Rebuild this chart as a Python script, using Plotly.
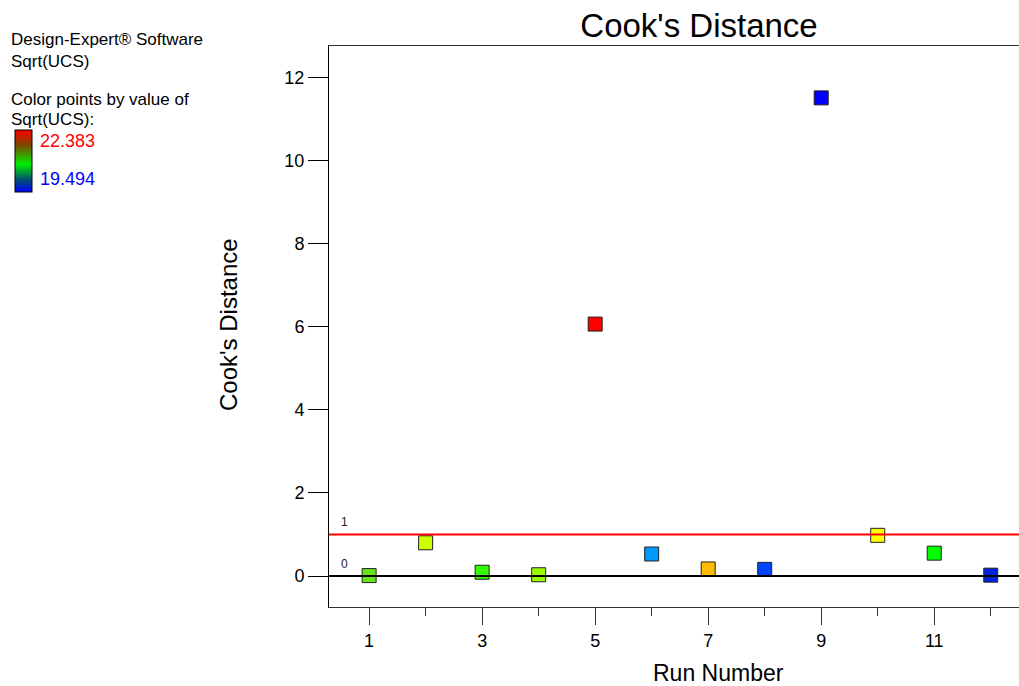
import plotly.graph_objects as go

runs = [1, 2, 3, 4, 5, 6, 7, 8, 9, 10, 11, 12]
cooks = [0.01, 0.80, 0.09, 0.03, 6.07, 0.53, 0.17, 0.16, 11.52, 0.98, 0.55, 0.02]
point_colors = ['#66e61a', '#ccff00', '#33ff00', '#99ff00', '#ff0000', '#0099ff',
                '#ffbb00', '#0044ff', '#0000ff', '#ffff00', '#00ff00', '#0022dd']
x_tick_vals = [1, 3, 5, 7, 9, 11]
y_tick_vals = [0, 2, 4, 6, 8, 10, 12]
ref_lines = [1, 0]
ref_colors = ['#ff0000', '#000000']
legend_hi = '22.383'
legend_lo = '19.494'

FONT = 'Liberation Sans, Arial, sans-serif'
W, H = 1019, 686
L, R, T, B = 329, 0, 46, 79
PW, PH = W - L - R, H - T - B


def px(x):
    return (x - L) / PW


def py(y):
    return (H - B - y) / PH


fig = go.Figure()

fig.add_trace(go.Scatter(
    x=runs, y=cooks, mode='markers',
    marker=dict(symbol='square', size=14, color=point_colors,
                line=dict(color='#222222', width=1)),
    showlegend=False, hoverinfo='x+y'))

# dummy trace only to carry the colour key bar
fig.add_trace(go.Scatter(
    x=runs, y=cooks, mode='markers', hoverinfo='skip', showlegend=False,
    marker=dict(opacity=0, size=1, color=[0.5] * len(runs), cmin=0, cmax=1,
                colorscale=[[0, '#0000ff'], [0.2, '#005070'], [0.45, '#00f000'],
                            [0.75, '#7a4a00'], [1, '#ff0000']],
                showscale=True,
                colorbar=dict(x=px(15), xanchor='left', xpad=0, ypad=0,
                              y=py(161), yanchor='middle',
                              len=62, lenmode='pixels', thickness=17,
                              thicknessmode='pixels', outlinewidth=1,
                              outlinecolor='#000000', showticklabels=False,
                              ticks=''))))

for v, c in zip(ref_lines, ref_colors):
    fig.add_shape(type='line', xref='paper', x0=0, x1=1, y0=v, y1=v,
                  line=dict(color=c, width=2), layer='above')
    fig.add_annotation(x=0.57, y=v + 0.3, text=str(v), showarrow=False,
                       xanchor='center', yanchor='middle',
                       font=dict(family=FONT, size=12, color='#222222'))

legend_lines = [
    ('Design-Expert® Software', 9, 40, '#000000', 17),
    ('Sqrt(UCS)', 9, 61, '#000000', 17),
    ('Color points by value of', 9, 99, '#000000', 17),
    ('Sqrt(UCS):', 9, 119, '#000000', 17),
    (legend_hi, 38, 141, '#ff0000', 18),
    (legend_lo, 38, 179, '#0000ff', 18),
]
for txt, x0, y0, col, fs in legend_lines:
    fig.add_annotation(xref='paper', yref='paper', x=px(x0), y=py(y0),
                       text=txt, showarrow=False, xanchor='left',
                       yanchor='middle',
                       font=dict(family=FONT, size=fs, color=col))

fig.add_annotation(xref='paper', yref='paper', x=px(718), y=py(673),
                   text='Run Number', showarrow=False, xanchor='center',
                   yanchor='middle', font=dict(family=FONT, size=23, color='#000'))
fig.add_annotation(xref='paper', yref='paper', x=px(228), y=py(325),
                   text="Cook's Distance", showarrow=False, textangle=-90,
                   xanchor='center', yanchor='middle',
                   font=dict(family=FONT, size=24, color='#000'))

fig.update_layout(
    width=W, height=H,
    margin=dict(l=L, r=R, t=T, b=B),
    paper_bgcolor='white', plot_bgcolor='white',
    font=dict(family=FONT, color='#000'),
    title=dict(text="Cook's Distance", x=px(699), xanchor='center', xref='paper',
               y=1 - 25 / H, yanchor='middle',
               font=dict(family=FONT, size=33, color='#000')),
    xaxis=dict(range=[0.29, 12.5], tickmode='array', tickvals=x_tick_vals,
               ticks='outside', ticklen=17, tickcolor='#333', tickwidth=1,
               minor=dict(tickmode='linear', tick0=0, dtick=1, ticks='outside',
                          ticklen=8, tickcolor='#333', showgrid=False),
               showline=True, linecolor='#333', linewidth=1, mirror=True,
               showgrid=False, zeroline=False,
               tickfont=dict(family=FONT, size=18)),
    yaxis=dict(range=[-0.747, 12.77], tickmode='array', tickvals=y_tick_vals,
               ticks='outside', ticklen=20, tickcolor='#000', tickwidth=1,
               showline=True, linecolor='#000', linewidth=1,
               showgrid=False, zeroline=False,
               tickfont=dict(family=FONT, size=18)),
)

fig.write_html('out.html')
